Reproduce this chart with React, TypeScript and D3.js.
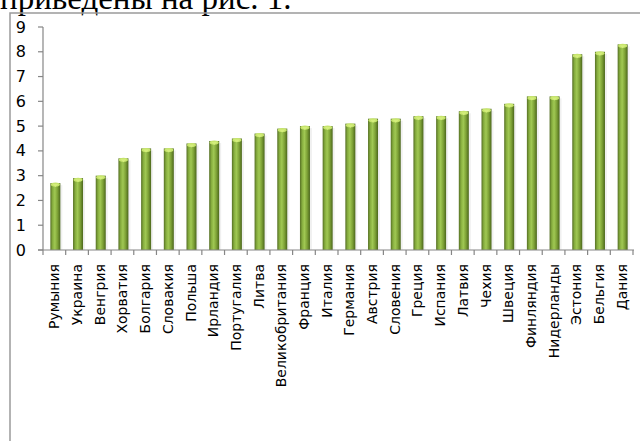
import * as d3 from 'd3'

const countries = [
  'Румыния', 'Украина', 'Венгрия', 'Хорватия', 'Болгария', 'Словакия', 'Польша',
  'Ирландия', 'Португалия', 'Литва', 'Великобритания', 'Франция', 'Италия',
  'Германия', 'Австрия', 'Словения', 'Греция', 'Испания', 'Латвия', 'Чехия',
  'Швеция', 'Финляндия', 'Нидерланды', 'Эстония', 'Бельгия', 'Дания',
]
const values = [
  2.7, 2.9, 3.0, 3.7, 4.1, 4.1, 4.3, 4.4, 4.5, 4.7, 4.9, 5.0, 5.0,
  5.1, 5.3, 5.3, 5.4, 5.4, 5.6, 5.7, 5.9, 6.2, 6.2, 7.9, 8.0, 8.3,
]
const yTicks = [0, 1, 2, 3, 4, 5, 6, 7, 8, 9]

const W = 640
const H = 441
const AXIS = '#868686'
const FONT = '"DejaVu Sans", sans-serif'

export default function App() {
  const x = d3.scaleBand<string>().domain(countries).range([43, 633]).padding(0)
  const y = d3.scaleLinear().domain([0, 9]).range([250, 27])
  const bw = 10
  const y0 = y(0)

  return (
    <div style={{ position: 'absolute', left: 0, top: 0, width: W, height: H, background: '#fff', overflow: 'hidden' }}>
      <svg width={W} height={H} style={{ display: 'block' }}>
        <defs>
          <linearGradient id="barGrad" x1="0" x2="1" y1="0" y2="0">
            <stop offset="0%" stopColor="#556f24" />
            <stop offset="22%" stopColor="#86ad3e" />
            <stop offset="45%" stopColor="#a0c853" />
            <stop offset="72%" stopColor="#7da136" />
            <stop offset="100%" stopColor="#4b661c" />
          </linearGradient>
        </defs>

        {/* text of the page above the figure, cut off */}
        <text x={0} y={9} style={{ fontFamily: '"Liberation Serif", serif', fontSize: 33, fill: '#000' }}>
          приведены на рис. 1.
        </text>

        {/* chart frame */}
        <rect x={10} y={13} width={700} height={500} fill="none" stroke="#9a9a9a" strokeWidth={1.5} />

        {/* bars */}
        {countries.map((c, i) => {
          const cx = (x(c) ?? 0) + x.bandwidth() / 2 + 1
          const top = y(values[i])
          return (
            <g key={c}>
              <rect x={cx - bw / 2 + 2} y={top + 2} width={bw} height={y0 - top - 2} fill="#000" opacity={0.06} />
              <rect x={cx - bw / 2} y={top} width={bw} height={y0 - top} fill="url(#barGrad)" />
              <ellipse cx={cx} cy={top + 1.5} rx={bw / 2 - 0.5} ry={2} fill="#c6e46c" />
              <path d={`M${cx - 3},${top + 1} L${cx + 3},${top + 1} L${cx},${top + 4} Z`} fill="#d4ee7c" />
            </g>
          )
        })}

        {/* y axis */}
        <line x1={43} x2={43} y1={y(9)} y2={y0} stroke={AXIS} strokeWidth={1.2} />
        {yTicks.map((t) => (
          <g key={t}>
            <line x1={38} x2={43} y1={y(t)} y2={y(t)} stroke={AXIS} strokeWidth={1.2} />
            <text x={26} y={y(t)} textAnchor="end" dominantBaseline="central"
              style={{ fontFamily: FONT, fontSize: 16, fill: '#000' }}>
              {t}
            </text>
          </g>
        ))}

        {/* x axis */}
        <line x1={38} x2={634} y1={y0} y2={y0} stroke={AXIS} strokeWidth={1.2} />
        {countries.map((c) => (
          <line key={'t' + c} x1={x(c) ?? 0} x2={x(c) ?? 0} y1={y0} y2={y0 + 5} stroke={AXIS} strokeWidth={1.2} />
        ))}
        <line x1={633} x2={633} y1={y0} y2={y0 + 5} stroke={AXIS} strokeWidth={1.2} />
        {countries.map((c) => {
          const cx = (x(c) ?? 0) + x.bandwidth() / 2
          return (
            <text key={'l' + c} transform={`translate(${cx},264) rotate(-90)`}
              textAnchor="end" dominantBaseline="central"
              style={{ fontFamily: FONT, fontSize: 14, fill: '#000' }}>
              {c}
            </text>
          )
        })}
      </svg>
    </div>
  )
}
